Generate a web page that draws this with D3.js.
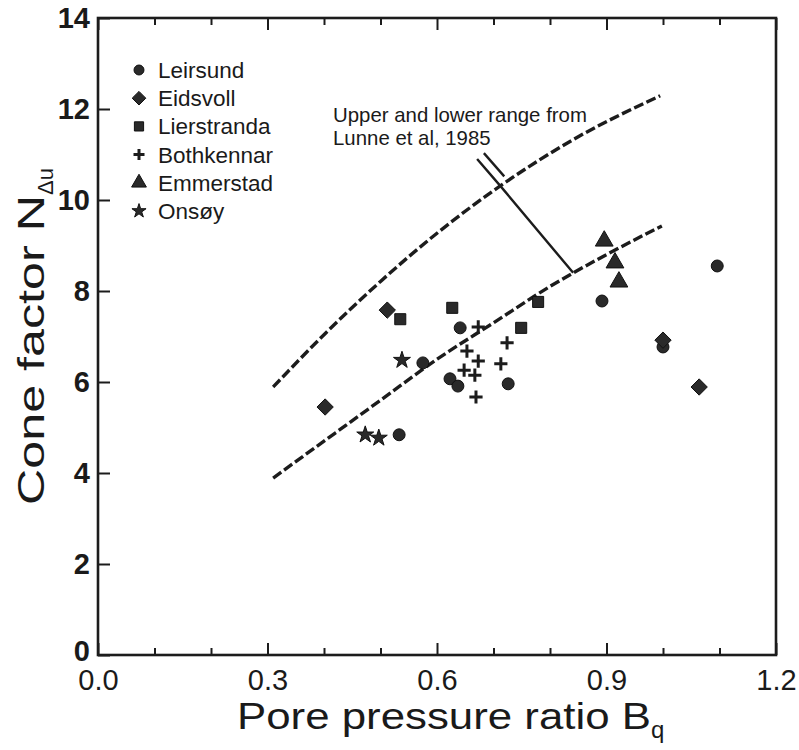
<!DOCTYPE html>
<html>
<head>
<meta charset="utf-8">
<script src="https://cdn.jsdelivr.net/npm/d3@7"></script>
<style>
  body { margin: 0; background: #fff; }
  text { font-family: "Liberation Sans", Arial, Helvetica, sans-serif; fill: #1a1a1a; }
</style>
</head>
<body>
<svg id="chart" width="799" height="750"></svg>
<script>
// ---- data ----
const xMajorTicks = [0.0, 0.3, 0.6, 0.9, 1.2];
const xMinorTicks = [0.1, 0.2, 0.4, 0.5, 0.7, 0.8, 1.0, 1.1];
const yTicks = [0, 2, 4, 6, 8, 10, 12, 14];

const seriesNames = ["Leirsund", "Eidsvoll", "Lierstranda", "Bothkennar", "Emmerstad", "Onsøy"];
const leirsund = [[0.533,4.84],[0.575,6.42],[0.641,7.19],[0.623,6.07],[0.637,5.91],[0.726,5.96],[0.892,7.78],[1.096,8.55],[1.0,6.77]];
const eidsvoll = [[0.402,5.45],[0.512,7.58],[1.0,6.92],[1.064,5.89]];
const lierstranda = [[0.535,7.38],[0.627,7.63],[0.749,7.19],[0.779,7.76]];
const bothkennar = [[0.673,7.21],[0.653,6.68],[0.673,6.46],[0.648,6.26],[0.667,6.15],[0.724,6.86],[0.713,6.40],[0.669,5.67]];
const emmerstad = [[0.896,9.10],[0.915,8.62],[0.922,8.20]];
const onsoy = [[0.538,6.48],[0.473,4.84],[0.497,4.77]];

const upperRange = [[0.31,5.89],[0.40,7.04],[0.50,8.21],[0.60,9.27],[0.712,10.31],[0.85,11.39],[0.995,12.29]];
const lowerRange = [[0.31,3.89],[0.40,4.7],[0.50,5.6],[0.60,6.5],[0.70,7.3],[0.80,8.1],[0.90,8.8],[0.998,9.43]];

const leaderMain = [[0.671,10.90],[0.712,10.31],[0.841,8.40]];
const leaderTwin = [[0.683,11.03],[0.719,10.52]];
const annotationLines = ["Upper and lower range from", "Lunne et al, 1985"];
const annotationAnchor = [0.416, 11.71];

// ---- layout ----
const svg = d3.select("#chart");
const x = d3.scaleLinear().domain([0, 1.2]).range([98, 776]);
const y = d3.scaleLinear().domain([0, 14]).range([655, 18]);
const ink = "#1c1c1c";

// frame
svg.append("rect")
  .attr("x", x(0)).attr("y", y(14))
  .attr("width", x(1.2) - x(0)).attr("height", y(0) - y(14))
  .attr("fill", "none").attr("stroke", ink).attr("stroke-width", 2.6);

function styleAxis(g) {
  g.select(".domain").remove();
  g.selectAll(".tick line").attr("stroke", ink).attr("stroke-width", 2);
}

// bottom major with labels
svg.append("g").attr("transform", `translate(0,${y(0)})`)
  .call(d3.axisBottom(x).tickValues(xMajorTicks).tickSize(-12).tickPadding(14).tickFormat(d3.format(".1f")))
  .call(styleAxis)
  .call(g => g.selectAll("text").attr("font-size", 29).attr("fill", ink).style("font-family", "'Liberation Sans', Arial, sans-serif"));
// bottom minor
svg.append("g").attr("transform", `translate(0,${y(0)})`)
  .call(d3.axisBottom(x).tickValues(xMinorTicks).tickSize(-7).tickFormat(""))
  .call(styleAxis);
// top major / minor
svg.append("g").attr("transform", `translate(0,${y(14)})`)
  .call(d3.axisTop(x).tickValues(xMajorTicks).tickSize(-12).tickFormat(""))
  .call(styleAxis);
svg.append("g").attr("transform", `translate(0,${y(14)})`)
  .call(d3.axisTop(x).tickValues(xMinorTicks).tickSize(-7).tickFormat(""))
  .call(styleAxis);
// left
svg.append("g").attr("transform", `translate(${x(0)},0)`)
  .call(d3.axisLeft(y).tickValues(yTicks).tickSize(-12).tickPadding(8).tickFormat(d3.format("d")))
  .call(styleAxis)
  .call(g => g.selectAll("text").attr("font-size", 29).attr("font-weight", "bold").attr("fill", ink).style("font-family", "'Liberation Sans', Arial, sans-serif"))
  .call(g => g.selectAll(".tick").filter(d => d === 0).select("text").attr("dy", "0.2em"));

// axis titles
const xt = svg.append("text").attr("x", 237).attr("y", 729).attr("font-size", 36);
xt.append("tspan").attr("textLength", 414).attr("lengthAdjust", "spacingAndGlyphs").text("Pore pressure ratio B");
xt.append("tspan").attr("font-size", 24).attr("dy", 9).text("q");

const yt = svg.append("text").attr("transform", "translate(44,505) rotate(-90)").attr("font-size", 36);
yt.append("tspan").attr("textLength", 310).attr("lengthAdjust", "spacingAndGlyphs").text("Cone factor N");
yt.append("tspan").attr("font-size", 22).attr("dy", 9).text("Δu");

// dashed range curves
const line = d3.line().x(d => x(d[0])).y(d => y(d[1])).curve(d3.curveMonotoneX);
[upperRange, lowerRange].forEach(data => {
  svg.append("path").attr("d", line(data))
    .attr("fill", "none").attr("stroke", ink).attr("stroke-width", 3.4)
    .attr("stroke-dasharray", "10,3.5");
});

// leader
const straight = d3.line().x(d => x(d[0])).y(d => y(d[1]));
[leaderMain, leaderTwin].forEach(data => {
  svg.append("path").attr("d", straight(data))
    .attr("fill", "none").attr("stroke", ink).attr("stroke-width", 2.4);
});
const at = svg.append("text").attr("x", x(annotationAnchor[0])).attr("y", y(annotationAnchor[1])).attr("font-size", 20.4);
annotationLines.forEach((t, i) => at.append("tspan").attr("x", x(annotationAnchor[0])).attr("dy", i ? 23 : 0).text(t));

// markers
function markerPath(kind, s) {
  const p = d3.path();
  if (kind === 0) { // circle
    return d3.symbol(d3.symbolCircle, s * s * 0.78)();
  } else if (kind === 1) { // diamond
    const r = s * 0.68;
    p.moveTo(0, -r); p.lineTo(r, 0); p.lineTo(0, r); p.lineTo(-r, 0); p.closePath();
    return p.toString();
  } else if (kind === 2) { // square
    const r = s * 0.46;
    p.rect(-r, -r, 2 * r, 2 * r);
    return p.toString();
  } else if (kind === 4) { // triangle
    return d3.symbol(d3.symbolTriangle, s * s * 0.95)();
  } else if (kind === 5) { // star
    return d3.symbol(d3.symbolStar, s * s * 0.62)();
  }
  return null;
}
const allSeries = [leirsund, eidsvoll, lierstranda, bothkennar, emmerstad, onsoy];
const mSize = 12;
function drawMarker(g, kind, cx, cy, s) {
  if (kind === 3) {
    const r = s * 0.55;
    g.append("path").attr("d", `M${cx - r},${cy}H${cx + r}M${cx},${cy - r}V${cy + r}`)
      .attr("stroke", ink).attr("stroke-width", 3).attr("fill", "none");
  } else {
    g.append("path").attr("d", markerPath(kind, s)).attr("transform", `translate(${cx},${cy})`)
      .attr("fill", "#2a2a2a").attr("stroke", "#111").attr("stroke-width", 1);
  }
}
const pts = svg.append("g");
allSeries.forEach((data, k) => {
  data.forEach(d => drawMarker(pts, k, x(d[0]), y(d[1]), mSize));
});

// legend
const lg = svg.append("g");
seriesNames.forEach((name, i) => {
  const cy = 70 + i * 28.2;
  drawMarker(lg, i, 139, cy, 10);
  lg.append("text").attr("x", 158).attr("y", cy + 8).attr("font-size", 22.5).text(name);
});
</script>
</body>
</html>
